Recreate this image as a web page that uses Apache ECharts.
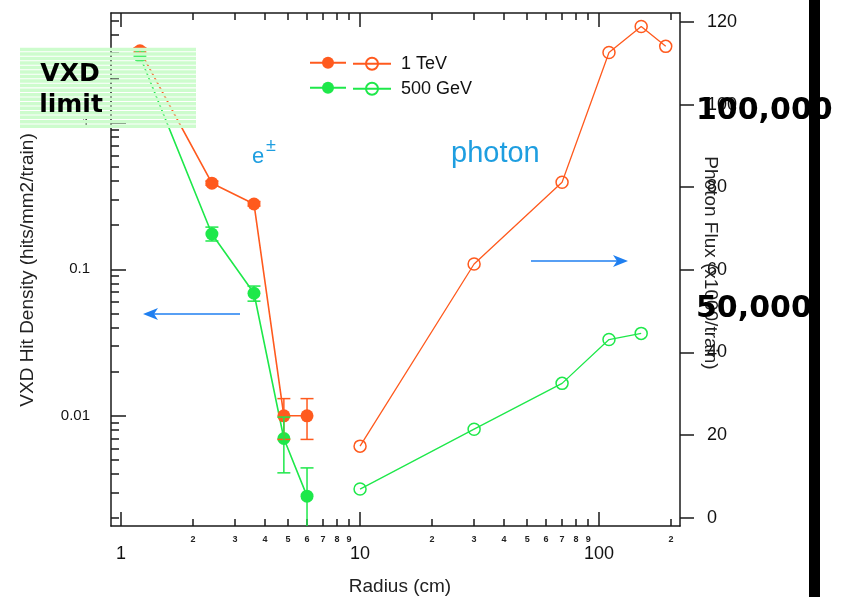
<!DOCTYPE html>
<html><head><meta charset="utf-8">
<script src="https://cdn.jsdelivr.net/npm/echarts@6/dist/echarts.min.js"></script>
<style>html,body{margin:0;padding:0;background:#fff}#c{width:846px;height:597px}</style>
</head><body><div id="c"></div>
<script>
// ---- data ----
const radiusEpm = [1.2, 2.4, 3.6, 4.8, 6.0];
const hit1TeV = [3.1, 0.387, 0.279, 0.0100, 0.0100];
const hit500GeV = [2.85, 0.174, 0.0686, 0.0070, 0.00283];
const err1TeVLow = [3.0, 0.375, 0.270, 0.0069, 0.0069];
const err1TeVHigh = [3.25, 0.400, 0.290, 0.0131, 0.0131];
const err500GeVLow = [2.75, 0.156, 0.0606, 0.00408, 0.0012];
const err500GeVHigh = [2.95, 0.194, 0.0768, 0.0098, 0.00441];
const radiusPhoton1TeV = [10, 30, 70, 110, 150, 190];
const flux1TeV = [17.3, 61.4, 81.2, 112.6, 118.9, 114.1];
const radiusPhoton500GeV = [10, 30, 70, 110, 150];
const flux500GeV = [6.9, 21.4, 32.5, 43.1, 44.6];
const legendNames = ['1 TeV', '500 GeV'];
const xMajorTicks = [1, 10, 100];
const xMinorTicks = [2, 3, 4, 5, 6, 7, 8, 9, 20, 30, 40, 50, 60, 70, 80, 90, 200];
const yMajorTicks = [0.01, 0.1, 1];
const yMinorTicks = [0.002, 0.003, 0.004, 0.005, 0.006, 0.007, 0.008, 0.009,
  0.02, 0.03, 0.04, 0.05, 0.06, 0.07, 0.08, 0.09,
  0.2, 0.3, 0.4, 0.5, 0.6, 0.7, 0.8, 0.9, 2, 3, 4, 5];
const fluxTicks = [0, 20, 40, 60, 80, 100, 120];

// ---- styles ----
const ORANGE = '#ff5a1e', GREEN = '#1ee84a', BLUE_T = '#1e9ee0', BLUE_A = '#1f7ff0', AX = '#1a1a1a';
const FONT = "'Liberation Sans', Arial, sans-serif";
const BOLD = "'DejaVu Sans', sans-serif";

const pairs = (xs, ys) => xs.map((x, i) => [x, ys[i]]);
const tickStyle = { color: AX, width: 1.5 };

function errSeries(color, lows, highs) {
  return {
    type: 'custom', xAxisIndex: 0, yAxisIndex: 0, z: 4, clip: true, silent: true,
    data: radiusEpm.map((x, i) => [x, lows[i], highs[i]]),
    renderItem: (p, api) => {
      const x = api.value(0);
      const a = api.coord([x, api.value(1)]), b = api.coord([x, api.value(2)]);
      const hw = 6.5, st = { stroke: color, lineWidth: 1.5 };
      return { type: 'group', children: [
        { type: 'line', shape: { x1: a[0], y1: a[1], x2: b[0], y2: b[1] }, style: st },
        { type: 'line', shape: { x1: a[0] - hw, y1: a[1], x2: a[0] + hw, y2: a[1] }, style: st },
        { type: 'line', shape: { x1: b[0] - hw, y1: b[1], x2: b[0] + hw, y2: b[1] }, style: st }
      ] };
    }
  };
}

function iconLegend(name, left, top, width) {
  return { data: [name], left: left, top: top, orient: 'vertical', padding: 0,
    itemWidth: width, itemHeight: 15, itemGap: 0, selectedMode: false,
    formatter: () => '', textStyle: { fontSize: 1, lineHeight: 1 } };
}

const xBase = { type: 'log', logBase: 10, min: 0.908, max: 218, gridIndex: 0,
  splitLine: { show: false }, minorTick: { show: false } };
const leadDigit = v => String(Math.round(v / Math.pow(10, Math.floor(Math.log10(v) + 1e-9))));

const stripes = [];
for (let i = 0; i < 18; i++) {
  stripes.push({ type: 'rect', z: 100, shape: { x: 20, y: 47.7 + i * 4.52, width: 176, height: 3.5 },
    style: { fill: '#cdfccd' } });
}

const option = {
  animation: false,
  backgroundColor: '#fff',
  grid: { left: 111, right: 166, top: 13, bottom: 71, outerBoundsMode: 'none' },
  legend: [
    iconLegend(legendNames[0], 309, 56.8, 36),
    iconLegend(legendNames[1], 309, 81.8, 36),
    iconLegend(legendNames[0] + ' ', 352, 56.8, 38),
    iconLegend(legendNames[1] + ' ', 352, 81.8, 38)
  ],
  xAxis: [
    Object.assign({}, xBase, { position: 'bottom',
      axisLine: { show: true, onZero: false, lineStyle: tickStyle },
      axisTick: { show: true, inside: true, length: 7, customValues: xMinorTicks, lineStyle: tickStyle },
      axisLabel: { show: true, customValues: xMinorTicks, fontSize: 9, margin: 9, color: '#222',
        fontFamily: FONT, fontWeight: 'bold', formatter: leadDigit } }),
    Object.assign({}, xBase, { position: 'bottom',
      axisLine: { show: false, onZero: false },
      axisTick: { show: true, inside: true, length: 14, customValues: xMajorTicks, lineStyle: tickStyle },
      axisLabel: { show: true, customValues: xMajorTicks, fontSize: 18, margin: 19, color: '#111',
        fontFamily: FONT, formatter: v => String(Math.round(v)) } }),
    Object.assign({}, xBase, { position: 'top',
      axisLine: { show: true, onZero: false, lineStyle: tickStyle },
      axisTick: { show: true, inside: true, length: 7, customValues: xMinorTicks, lineStyle: tickStyle },
      axisLabel: { show: false } }),
    Object.assign({}, xBase, { position: 'top',
      axisLine: { show: false, onZero: false },
      axisTick: { show: true, inside: true, length: 14, customValues: xMajorTicks, lineStyle: tickStyle },
      axisLabel: { show: false } })
  ],
  yAxis: [
    { type: 'log', logBase: 10, min: 0.00177, max: 5.61, position: 'left', splitLine: { show: false },
      minorTick: { show: false },
      axisLine: { show: true, onZero: false, lineStyle: tickStyle },
      axisTick: { show: true, inside: true, length: 8, customValues: yMinorTicks, lineStyle: tickStyle },
      axisLabel: { show: false } },
    { type: 'log', logBase: 10, min: 0.00177, max: 5.61, position: 'left', splitLine: { show: false },
      minorTick: { show: false },
      axisLine: { show: false, onZero: false },
      axisTick: { show: true, inside: true, length: 15, customValues: yMajorTicks, lineStyle: tickStyle },
      axisLabel: { show: true, customValues: yMajorTicks, fontSize: 15, margin: 21, color: '#111',
        fontFamily: FONT, formatter: v => (v >= 1 ? '1' : String(+v.toPrecision(1))) } },
    { type: 'value', min: -2.04, max: 122.18, position: 'right', splitLine: { show: false },
      axisLine: { show: true, onZero: false, lineStyle: tickStyle },
      axisTick: { show: true, inside: false, length: 14, customValues: fluxTicks, lineStyle: tickStyle },
      axisLabel: { show: true, customValues: fluxTicks, fontSize: 18, margin: 27, color: '#111',
        fontFamily: FONT } }
  ],
  series: [
    { name: legendNames[0], type: 'line', xAxisIndex: 0, yAxisIndex: 0, z: 3,
      data: pairs(radiusEpm, hit1TeV), color: ORANGE,
      symbol: 'circle', symbolSize: 13, lineStyle: { color: ORANGE, width: 1.6 },
      itemStyle: { color: ORANGE } },
    { name: legendNames[1], type: 'line', xAxisIndex: 0, yAxisIndex: 0, z: 3,
      data: pairs(radiusEpm, hit500GeV), color: GREEN,
      symbol: 'circle', symbolSize: 13, lineStyle: { color: GREEN, width: 1.6 },
      itemStyle: { color: GREEN } },
    errSeries(ORANGE, err1TeVLow, err1TeVHigh),
    errSeries(GREEN, err500GeVLow, err500GeVHigh),
    { name: legendNames[0] + ' ', type: 'line', xAxisIndex: 0, yAxisIndex: 2, z: 3,
      data: pairs(radiusPhoton1TeV, flux1TeV), color: ORANGE,
      symbol: 'circle', symbolSize: 12, lineStyle: { color: ORANGE, width: 1.3 },
      itemStyle: { color: 'rgba(255,255,255,0)', borderColor: ORANGE, borderWidth: 1.5 } },
    { name: legendNames[1] + ' ', type: 'line', xAxisIndex: 0, yAxisIndex: 2, z: 3,
      data: pairs(radiusPhoton500GeV, flux500GeV), color: GREEN,
      symbol: 'circle', symbolSize: 12, lineStyle: { color: GREEN, width: 1.3 },
      itemStyle: { color: 'rgba(255,255,255,0)', borderColor: GREEN, borderWidth: 1.5 } }
  ],
  graphic: [
    // legend labels
    { type: 'text', x: 401, y: 64.3, z: 50,
      style: { text: legendNames[0], fontSize: 18, fontFamily: FONT, fill: '#111', align: 'left', verticalAlign: 'middle' } },
    { type: 'text', x: 401, y: 89.3, z: 50,
      style: { text: legendNames[1], fontSize: 18, fontFamily: FONT, fill: '#111', align: 'left', verticalAlign: 'middle' } },
    // axis titles
    { type: 'text', x: 28, y: 270, rotation: Math.PI / 2, z: 50,
      style: { text: 'VXD Hit Density (hits/mm2/train)', fontSize: 19, fontFamily: FONT, fill: '#222',
        align: 'center', verticalAlign: 'middle' } },
    { type: 'text', x: 710, y: 263, rotation: -Math.PI / 2, z: 50,
      style: { text: 'Photon Flux (x1000/train)', fontSize: 19, fontFamily: FONT, fill: '#222',
        align: 'center', verticalAlign: 'middle' } },
    { type: 'text', x: 400, y: 587, z: 50,
      style: { text: 'Radius (cm)', fontSize: 19, fontFamily: FONT, fill: '#222',
        align: 'center', verticalAlign: 'middle' } },
    // annotations
    { type: 'text', x: 252, y: 157.3, z: 50,
      style: { text: 'e', fontSize: 22, fontFamily: FONT, fill: BLUE_T, align: 'left', verticalAlign: 'middle' } },
    { type: 'text', x: 266, y: 146, z: 50,
      style: { text: '±', fontSize: 18, fontFamily: FONT, fill: BLUE_T, align: 'left', verticalAlign: 'middle' } },
    { type: 'text', x: 451, y: 153.5, z: 50,
      style: { text: 'photon', fontSize: 29, fontFamily: FONT, fill: BLUE_T, align: 'left', verticalAlign: 'middle' } },
    { type: 'line', z: 50, shape: { x1: 240, y1: 314, x2: 152, y2: 314 }, style: { stroke: BLUE_A, lineWidth: 1.6 } },
    { type: 'polygon', z: 50, shape: { points: [[143, 314], [158, 308], [154, 314], [158, 320]] }, style: { fill: BLUE_A } },
    { type: 'line', z: 50, shape: { x1: 531, y1: 261, x2: 620, y2: 261 }, style: { stroke: BLUE_A, lineWidth: 1.6 } },
    { type: 'polygon', z: 50, shape: { points: [[628, 261], [613, 255], [617, 261], [613, 267]] }, style: { fill: BLUE_A } },
    // VXD limit box
    { type: 'group', z: 100, children: stripes },
    { type: 'text', x: 70, y: 74, z: 110,
      style: { text: 'VXD', fontSize: 25, fontWeight: 'bold', fontFamily: BOLD, fill: '#000', align: 'center', verticalAlign: 'middle' } },
    { type: 'text', x: 71, y: 105, z: 110,
      style: { text: 'limit', fontSize: 25, fontWeight: 'bold', fontFamily: BOLD, fill: '#000', align: 'center', verticalAlign: 'middle' } },
    // overlaid big numbers and black bar
    { type: 'text', x: 696, y: 111, z: 120,
      style: { text: '100,000', fontSize: 30, fontWeight: 'bold', fontFamily: BOLD, fill: '#000', align: 'left', verticalAlign: 'middle' } },
    { type: 'text', x: 696, y: 309, z: 120,
      style: { text: '50,000', fontSize: 30, fontWeight: 'bold', fontFamily: BOLD, fill: '#000', align: 'left', verticalAlign: 'middle' } },
    { type: 'rect', z: 130, shape: { x: 809, y: 0, width: 11, height: 597 }, style: { fill: '#000' } }
  ]
};

const chart = echarts.init(document.getElementById('c'), null, { renderer: 'canvas' });
chart.setOption(option);
</script>
</body></html>
